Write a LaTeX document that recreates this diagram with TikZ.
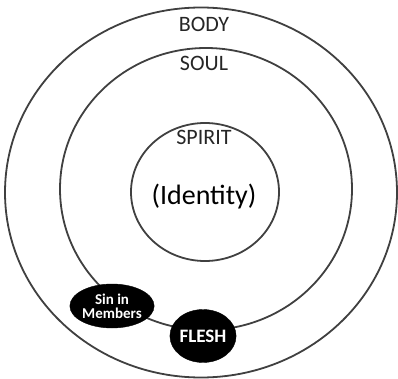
\documentclass[tikz,border=0pt]{standalone}
\usepackage{fontspec}
\setmainfont{Carlito}
\usetikzlibrary{shapes.geometric}
\begin{document}
\begin{tikzpicture}[x=1pt,y=-1pt,
  ring/.style={draw=black!75,line width=1.8pt,ellipse,inner sep=0pt},
  lbl/.style={text=black!85,font=\fontsize{22}{24}\selectfont},
  blob/.style={ellipse,fill=black,draw=black,inner sep=0pt,text=white,align=center}]
\useasboundingbox (0,0) rectangle (398,379);
\fill[white] (0,0) rectangle (398,379);
\node[ring,minimum width=392,minimum height=370] (body) at (201,192.5) {};
\node[ring,minimum width=292,minimum height=282] (soul) at (206,189) {};
\node[ring,minimum width=148,minimum height=138] (spirit) at (205,192) {};
\node[lbl] (tbody) at (204,24) {BODY};
\node[lbl] (tsoul) at (204,63) {SOUL};
\node[lbl] (tspirit) at (204,137) {SPIRIT};
\node[font=\fontsize{28}{30}\selectfont] (tid) at (204,197) {(Identity)};
\node[blob,minimum width=84,minimum height=44,font=\bfseries\fontsize{15}{15}\selectfont] (sin) at (112,306) {Sin in\\[-1pt]Members};
\node[blob,minimum width=62,minimum height=53,font=\bfseries\fontsize{19}{20}\selectfont] (flesh) at (203,336) {FLESH};
\end{tikzpicture}
\end{document}
